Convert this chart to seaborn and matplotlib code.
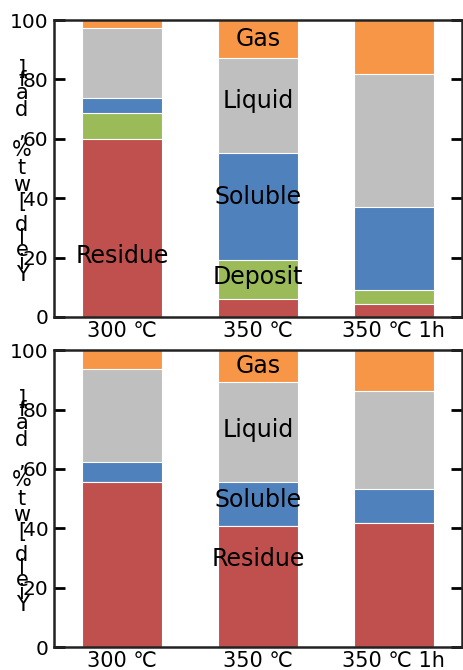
import numpy as np
import pandas as pd
import seaborn as sns
import matplotlib.pyplot as plt
from matplotlib.font_manager import FontProperties

# categories and stacked fractions (bottom -> top)
categories = ["300 ℃", "350 ℃", "350 ℃ 1h"]
layers = ["Residue", "Deposit", "Soluble", "Liquid", "Gas"]
colors = {"Residue": "#C0504D", "Deposit": "#9BBB59", "Soluble": "#4F81BD",
          "Liquid": "#BFBFBF", "Gas": "#F79646"}

top_residue = [60.0, 6.0, 4.3]
top_deposit = [8.6, 13.2, 4.6]
top_soluble = [5.2, 36.1, 28.1]
top_liquid = [23.7, 31.8, 44.8]
top_gas = [2.5, 12.9, 18.2]

bot_residue = [55.6, 40.9, 41.8]
bot_deposit = [0.0, 0.0, 0.0]
bot_soluble = [6.8, 14.7, 11.4]
bot_liquid = [31.2, 33.7, 33.0]
bot_gas = [6.4, 10.7, 13.8]

# segment labels: (category index, y, text)
top_labels = [(0, 20.5, "Residue"), (1, 13.6, "Deposit"), (1, 40.5, "Soluble"),
              (1, 72.7, "Liquid"), (1, 93.8, "Gas")]
bot_labels = [(1, 29.8, "Residue"), (1, 49.7, "Soluble"),
              (1, 73.0, "Liquid"), (1, 94.6, "Gas")]

ylabel = "Yield [wt%, daf]"

sns.set_style("white")
plt.rcParams['font.family'] = ['DejaVu Sans']
plt.rcParams['text.color'] = 'black'
plt.rcParams['xtick.color'] = 'black'
plt.rcParams['ytick.color'] = 'black'

fig = plt.figure(figsize=(4.63, 6.70), dpi=100)
ax1 = fig.add_axes([0.1166, 0.527, 0.881, 0.443])
ax2 = fig.add_axes([0.1166, 0.0343, 0.881, 0.443])


def draw_panel(ax, values, labels):
    df = pd.DataFrame(values, index=layers, columns=categories).T
    cum = df.cumsum(axis=1)
    # draw tallest cumulative first so lower layers sit on top
    for layer in reversed(layers):
        sns.barplot(x=categories, y=cum[layer].values, color=colors[layer],
                    width=0.585, edgecolor="white", linewidth=0.8,
                    saturation=1, ax=ax)
    ax.set_xlim(-0.5, 2.5)
    ax.set_ylim(0, 100)
    ax.set_yticks([0, 20, 40, 60, 80, 100])
    ax.tick_params(axis="y", direction="in", length=8, width=2,
                   left=True, right=True, labelsize=14.5, pad=4,
                   colors="black")
    ax.tick_params(axis="x", length=0, labelsize=15, pad=3, colors="black")
    for s in ax.spines.values():
        s.set_visible(True)
        s.set_color("#222222")
        s.set_linewidth(1.8)
    for i, y, t in labels:
        ax.text(i, y, t, ha="center", va="center", fontsize=17, color="black")

    # vertical label with upright stacked characters
    fig.canvas.draw()
    r = fig.canvas.get_renderer()
    lay = FontProperties(family="DejaVu Sans", size=20)
    pos = ax.get_position()
    y = pos.y0 + 0.141 * pos.height
    prev = None
    for ch in ylabel:
        w, h, d = r.get_text_width_height_descent(ch, lay, ismath=False)
        if ch == " " or w < 1:
            w = 0.32 * 20 * fig.dpi / 72
        wf = w / fig.bbox.height
        if prev is not None:
            y += (prev + wf) / 2
        fig.text(0.0475, y, ch, ha="center", va="center", fontsize=15,
                 color="black")
        prev = wf


draw_panel(ax1, [top_residue, top_deposit, top_soluble, top_liquid, top_gas], top_labels)
draw_panel(ax2, [bot_residue, bot_deposit, bot_soluble, bot_liquid, bot_gas], bot_labels)

fig.savefig("out.png", dpi=100)
